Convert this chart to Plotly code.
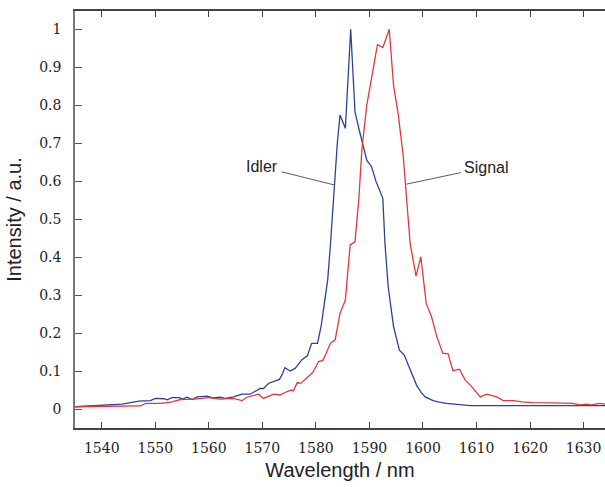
import plotly.graph_objects as go

idler_wl = [1535, 1538, 1541.6, 1543.8, 1546.9, 1549.1, 1550, 1551.6, 1552.2, 1553.1, 1554.5,
            1555.1, 1555.9, 1556.9, 1557.8, 1559.7, 1560.9, 1562.1, 1563.1, 1564.6, 1566.2,
            1567.7, 1569.6, 1570.2, 1571.2, 1572.1, 1573.2, 1573.8, 1574.2, 1575.2, 1576.1,
            1577.4, 1578.4, 1579.2, 1580.3, 1581.0, 1581.6, 1582.2, 1582.7, 1583.2, 1583.6,
            1584.0, 1584.5, 1585.5, 1586.5, 1587.3, 1588.1, 1589.0, 1589.5, 1590.4, 1591.2,
            1591.9, 1592.5, 1592.9, 1593.5, 1594.5, 1595.6, 1596.5, 1597.6, 1598.8, 1599.6,
            1600.4, 1601.9, 1603.0, 1604.4, 1605.6, 1606.9, 1608.8, 1634]
idler_int = [0.006, 0.008, 0.012, 0.013, 0.021, 0.022, 0.028, 0.027, 0.024, 0.030, 0.030,
             0.026, 0.031, 0.025, 0.032, 0.034, 0.029, 0.031, 0.028, 0.032, 0.039,
             0.039, 0.054, 0.054, 0.068, 0.072, 0.078, 0.094, 0.109, 0.100, 0.107,
             0.130, 0.140, 0.173, 0.173, 0.220, 0.280, 0.340, 0.430, 0.540, 0.600,
             0.700, 0.774, 0.739, 1.000, 0.782, 0.734, 0.680, 0.655, 0.638, 0.600,
             0.576, 0.554, 0.436, 0.322, 0.217, 0.155, 0.142, 0.103, 0.063, 0.045,
             0.032, 0.022, 0.018, 0.015, 0.013, 0.011, 0.009, 0.009]

signal_wl = [1535, 1541.6, 1547.2, 1548.2, 1551, 1553.1, 1554.7, 1557.2, 1560, 1562.1, 1564.6,
             1566.2, 1567.1, 1569.3, 1570.2, 1572.1, 1573.3, 1574.6, 1575.5, 1575.8, 1576.5,
             1577.2, 1578.3, 1579.4, 1580.5, 1581.3, 1581.9, 1582.7, 1583.6, 1584.5, 1585.5,
             1586.4, 1587.3, 1588.0, 1588.6, 1589.5, 1590.5, 1591.5, 1592.5, 1593.7, 1594.5,
             1595.4, 1596.3, 1596.7, 1597.0, 1597.6, 1598.7, 1599.6, 1600.6, 1601.6, 1602.6,
             1603.7, 1604.7, 1605.6, 1606.8, 1607.9, 1609.1, 1610.7, 1611.9, 1613.8, 1615,
             1616.9, 1618.5, 1620.6, 1624, 1628, 1629.3, 1630.5, 1631.5, 1633, 1634]
signal_int = [0.006, 0.008, 0.008, 0.015, 0.015, 0.019, 0.025, 0.026, 0.030, 0.026, 0.028,
              0.022, 0.031, 0.039, 0.028, 0.039, 0.037, 0.046, 0.050, 0.048, 0.069,
              0.068, 0.081, 0.096, 0.125, 0.128, 0.146, 0.173, 0.182, 0.252, 0.287,
              0.432, 0.440, 0.550, 0.686, 0.800, 0.880, 0.960, 0.952, 1.000, 0.853,
              0.774, 0.668, 0.594, 0.537, 0.436, 0.350, 0.401, 0.278, 0.243, 0.190,
              0.147, 0.145, 0.101, 0.105, 0.076, 0.059, 0.032, 0.039, 0.032, 0.022,
              0.022, 0.019, 0.017, 0.016, 0.015, 0.011, 0.013, 0.011, 0.015, 0.013]

x_ticks = [1540, 1550, 1560, 1570, 1580, 1590, 1600, 1610, 1620, 1630]
y_ticks = [0, 0.1, 0.2, 0.3, 0.4, 0.5, 0.6, 0.7, 0.8, 0.9, 1]
y_tick_text = ["0", "0.1", "0.2", "0.3", "0.4", "0.5", "0.6", "0.7", "0.8", "0.9", "1"]

serif = "DejaVu Serif"

fig = go.Figure()
fig.add_trace(go.Scatter(x=idler_wl, y=idler_int, mode="lines",
                         line=dict(color="#2b4496", width=1.3), name="Idler"))
fig.add_trace(go.Scatter(x=signal_wl, y=signal_int, mode="lines",
                         line=dict(color="#e2383d", width=1.3), name="Signal"))

ann_font = dict(family="Liberation Sans", size=16, color="#222")
fig.add_annotation(x=1583.4, y=0.59, text="Idler", showarrow=True, arrowhead=0,
                   arrowwidth=0.8, arrowcolor="#333", ax=-72, ay=-18, font=ann_font,
                   standoff=0, borderpad=3)
fig.add_annotation(x=1596.9, y=0.592, text="Signal", showarrow=True, arrowhead=0,
                   arrowwidth=0.8, arrowcolor="#333", ax=80, ay=-17, font=ann_font,
                   standoff=0, borderpad=3)

tick_font = dict(family=serif, size=14, color="#222")
title_font = dict(family="Liberation Sans", size=20, color="#222")

fig.update_layout(width=605, height=487, margin=dict(l=75, r=0, t=11, b=59),
                  plot_bgcolor="white", paper_bgcolor="white", showlegend=False,
                  font=dict(family=serif, size=14, color="#222"))

fig.update_xaxes(range=[1535, 1634], tickvals=x_ticks, ticks="inside", ticklen=6,
                 tickcolor="#444", showline=True, linecolor="#444", linewidth=1.5,
                 mirror="ticks", showgrid=False, zeroline=False, tickfont=tick_font,
                 ticklabelstandoff=6,
                 title=dict(text="Wavelength / nm", font=title_font, standoff=8))
fig.update_yaxes(range=[-0.05, 1.048], tickvals=y_ticks, ticktext=y_tick_text,
                 ticks="inside", ticklen=7, tickcolor="#555", showline=True,
                 linecolor="#777", linewidth=1.5, mirror=False, showgrid=False,
                 zeroline=False, tickfont=tick_font, ticklabelstandoff=9,
                 title=dict(text="Intensity / a.u.", font=title_font, standoff=12))

fig.write_html("out.html")
